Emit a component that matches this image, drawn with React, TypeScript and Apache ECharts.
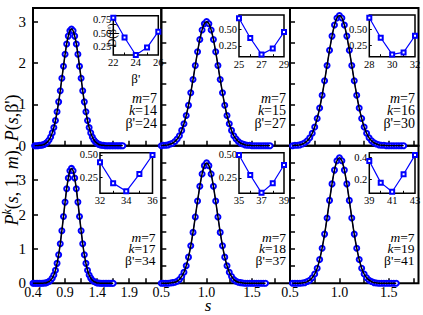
import React, { useEffect, useRef } from 'react';
import * as echarts from 'echarts';

// ---- data ----
const sGrid = [0.4, 0.425, 0.45, 0.475, 0.5, 0.525, 0.55, 0.575, 0.6, 0.625, 0.65, 0.675, 0.7, 0.725, 0.75, 0.775, 0.8, 0.825, 0.85, 0.875, 0.9, 0.925, 0.95, 0.975, 1.0, 1.025, 1.05, 1.075, 1.1, 1.125, 1.15, 1.175, 1.2, 1.225, 1.25, 1.275, 1.3, 1.325, 1.35, 1.375, 1.4, 1.425, 1.45, 1.475, 1.5, 1.525, 1.55, 1.575, 1.6, 1.625, 1.65, 1.675, 1.7, 1.725, 1.75, 1.775, 1.8];

const pK14 = [0, 0, 0, 0, 0.01, 0.01, 0.02, 0.03, 0.06, 0.09, 0.14, 0.21, 0.31, 0.44, 0.61, 0.82, 1.06, 1.33, 1.63, 1.92, 2.21, 2.46, 2.65, 2.78, 2.82, 2.78, 2.65, 2.46, 2.21, 1.92, 1.63, 1.33, 1.06, 0.82, 0.61, 0.44, 0.31, 0.21, 0.14, 0.09, 0.06, 0.03, 0.02, 0.01, 0.01, 0, 0, 0, 0, 0, 0, 0, 0, 0, 0, 0, 0];
const pK15 = [0, 0, 0, 0, 0, 0.01, 0.01, 0.02, 0.04, 0.06, 0.10, 0.16, 0.24, 0.37, 0.53, 0.73, 0.98, 1.28, 1.60, 1.94, 2.27, 2.57, 2.80, 2.95, 3.0, 2.95, 2.80, 2.57, 2.27, 1.94, 1.60, 1.28, 0.98, 0.73, 0.53, 0.37, 0.24, 0.16, 0.10, 0.06, 0.04, 0.02, 0.01, 0.01, 0, 0, 0, 0, 0, 0, 0, 0, 0, 0, 0, 0, 0];
const pK16 = [0, 0, 0, 0, 0, 0, 0.01, 0.01, 0.02, 0.04, 0.07, 0.12, 0.19, 0.30, 0.45, 0.66, 0.91, 1.22, 1.57, 1.94, 2.31, 2.65, 2.92, 3.09, 3.15, 3.09, 2.92, 2.65, 2.31, 1.94, 1.57, 1.22, 0.91, 0.66, 0.45, 0.30, 0.19, 0.12, 0.07, 0.04, 0.02, 0.01, 0.01, 0, 0, 0, 0, 0, 0, 0, 0, 0, 0, 0, 0, 0, 0];
const pK17 = [0, 0, 0, 0, 0, 0, 0, 0.01, 0.01, 0.03, 0.05, 0.09, 0.15, 0.24, 0.38, 0.58, 0.83, 1.15, 1.53, 1.94, 2.36, 2.75, 3.06, 3.27, 3.34, 3.27, 3.06, 2.75, 2.36, 1.94, 1.53, 1.15, 0.83, 0.58, 0.38, 0.24, 0.15, 0.09, 0.05, 0.03, 0.01, 0.01, 0, 0, 0, 0, 0, 0, 0, 0, 0, 0, 0, 0, 0, 0, 0];
const pK18 = [0, 0, 0, 0, 0, 0, 0, 0, 0.01, 0.02, 0.03, 0.06, 0.11, 0.20, 0.32, 0.51, 0.76, 1.09, 1.48, 1.93, 2.39, 2.82, 3.18, 3.42, 3.5, 3.42, 3.18, 2.82, 2.39, 1.93, 1.48, 1.09, 0.76, 0.51, 0.32, 0.20, 0.11, 0.06, 0.03, 0.02, 0.01, 0, 0, 0, 0, 0, 0, 0, 0, 0, 0, 0, 0, 0, 0, 0, 0];
const pK19 = [0, 0, 0, 0, 0, 0, 0, 0, 0, 0.01, 0.02, 0.05, 0.09, 0.16, 0.27, 0.44, 0.69, 1.02, 1.43, 1.90, 2.41, 2.89, 3.29, 3.56, 3.65, 3.56, 3.29, 2.89, 2.41, 1.90, 1.43, 1.02, 0.69, 0.44, 0.27, 0.16, 0.09, 0.05, 0.02, 0.01, 0, 0, 0, 0, 0, 0, 0, 0, 0, 0, 0, 0, 0, 0, 0, 0, 0];

// extent of the sampled data in s for each panel
const spanK14 = [0.425, 1.8];
const spanK15 = [0.5, 1.7];
const spanK16 = [0.525, 1.65];
const spanK17 = [0.4, 1.65];
const spanK18 = [0.5, 1.65];
const spanK19 = [0.525, 1.575];

// inset data: D(beta')
const betaK14 = [22, 23, 24, 25, 26];
const dK14 = [0.79, 0.42, 0.09, 0.23, 0.53];
const betaK15 = [25, 26, 27, 28, 29];
const dK15 = [0.67, 0.37, 0.12, 0.21, 0.46];
const betaK16 = [28, 29, 30, 31, 32];
const dK16 = [0.67, 0.37, 0.12, 0.15, 0.40];
const betaK17 = [32, 33, 34, 35, 36];
const dK17 = [0.42, 0.19, 0.10, 0.29, 0.50];
const betaK18 = [35, 36, 37, 38, 39];
const dK18 = [0.50, 0.28, 0.085, 0.19, 0.39];
const betaK19 = [39, 40, 41, 42, 43];
const dK19 = [0.366, 0.17, 0.087, 0.246, 0.42];

// tick labels
const sTicksLeft = [0.65, 0.9, 1.15, 1.4, 1.65, 1.9, 2.15];
const sLabelsLeft = [0.4, 0.9, 1.4, 1.9];
const sTicksMid = [0.75, 1.0, 1.25, 1.5, 1.75];
const sLabelsMid = [0.5, 1.0, 1.5];
const sTicksRight = [0.75, 1.0, 1.25, 1.5, 1.75];
const sLabelsRight = [0.5, 1.0, 1.5];
const pTicksLeft = [1, 2, 3];
const pLabelsLeft = [0, 1, 2, 3];
const pTicksInnerTop = [0.5, 1, 1.5, 2, 2.5, 3];
const pTicksInnerBottom = [0.5, 1, 1.5, 2, 2.5, 3, 3.5];

const dLabelsK14 = [0.25, 0.5, 0.75];
const dLabelsK15 = [0.25, 0.5];
const dLabelsK16 = [0.25, 0.5];
const dLabelsK17 = [0.25, 0.5];
const dLabelsK18 = [0.25, 0.5];
const dLabelsK19 = [0.2, 0.4];

const mValue = 7;

// ---- styling / layout ----
const FONT = 'Liberation Serif';
const BLUE = '#0000ff';

const panels = [
  { k: 14, beta: 24, p: pK14, span: spanK14, betas: betaK14, d: dK14, dRange: [0.09, 0.83], dLabels: dLabelsK14, dDigits: 2 },
  { k: 15, beta: 27, p: pK15, span: spanK15, betas: betaK15, d: dK15, dRange: [0.085, 0.72], dLabels: dLabelsK15, dDigits: 2 },
  { k: 16, beta: 30, p: pK16, span: spanK16, betas: betaK16, d: dK16, dRange: [0.086, 0.71], dLabels: dLabelsK16, dDigits: 2 },
  { k: 17, beta: 34, p: pK17, span: spanK17, betas: betaK17, d: dK17, dRange: [0.078, 0.525], dLabels: dLabelsK17, dDigits: 2 },
  { k: 18, beta: 37, p: pK18, span: spanK18, betas: betaK18, d: dK18, dRange: [0.08, 0.525], dLabels: dLabelsK18, dDigits: 2 },
  { k: 19, beta: 41, p: pK19, span: spanK19, betas: betaK19, d: dK19, dRange: [0.073, 0.442], dLabels: dLabelsK19, dDigits: 1 },
];

const mainRects = [
  { left: 33, top: 8, width: 128.3, height: 137.7 },
  { left: 161.3, top: 8, width: 128.7, height: 137.7 },
  { left: 290, top: 8, width: 128.5, height: 137.7 },
  { left: 33, top: 145.7, width: 128.3, height: 137.6 },
  { left: 161.3, top: 145.7, width: 128.7, height: 137.6 },
  { left: 290, top: 145.7, width: 128.5, height: 137.6 },
];
const insetRects = [
  { left: 113.3, top: 15.7, width: 45, height: 39.3 },
  { left: 239, top: 15, width: 45, height: 41.7 },
  { left: 369.3, top: 15, width: 45.7, height: 41.7 },
  { left: 100, top: 152.7, width: 52.5, height: 40.6 },
  { left: 239, top: 152.7, width: 45, height: 40.6 },
  { left: 369.3, top: 152.7, width: 45.7, height: 40.6 },
];
const colX = [
  { min: 0.4, max: 2.4, ticks: sTicksLeft, labels: sLabelsLeft },
  { min: 0.5, max: 1.92, ticks: sTicksMid, labels: sLabelsMid },
  { min: 0.5, max: 1.8, ticks: sTicksRight, labels: sLabelsRight },
];
const rowYMax = [3.33, 4];
// annotation block: right edge x, centre y, line height, font size
const annot = [
  { x: 157, y: 110.8, lh: 12.5, fs: 14 },
  { x: 286, y: 110.8, lh: 12.5, fs: 14 },
  { x: 415, y: 110.8, lh: 12.5, fs: 14 },
  { x: 155.5, y: 248.5, lh: 11.5, fs: 13.5 },
  { x: 286, y: 248.5, lh: 11.5, fs: 13.5 },
  { x: 414.5, y: 248.5, lh: 11.5, fs: 13.5 },
];

function buildOption() {
  const grid: any[] = [];
  const xAxis: any[] = [];
  const yAxis: any[] = [];
  const series: any[] = [];
  const graphic: any[] = [];

  panels.forEach((pn, i) => {
    const col = i % 3;
    const row = Math.floor(i / 3);
    const cx = colX[col];
    const mi = grid.length; // main grid index
    grid.push({
      ...mainRects[i], show: true, borderColor: '#000', borderWidth: 2,
      backgroundColor: 'transparent', containLabel: false, outerBoundsMode: 'none',
    });
    xAxis.push({
      type: 'value', gridIndex: mi, min: cx.min, max: cx.max,
      axisLine: { show: false },
      axisTick: { show: true, inside: true, length: 5, customValues: cx.ticks, lineStyle: { color: '#000', width: 1.5 } },
      axisLabel: {
        show: row === 1, customValues: cx.labels, formatter: (v: number) => v.toFixed(1),
        fontFamily: FONT, fontSize: 14, color: '#000', margin: 2, showMinLabel: true, showMaxLabel: true,
      },
      splitLine: { show: false },
    });
    yAxis.push({
      type: 'value', gridIndex: mi, min: 0, max: rowYMax[row],
      axisLine: { show: false },
      axisTick: {
        show: true, inside: true, length: 5,
        customValues: col === 0 ? pTicksLeft : row === 0 ? pTicksInnerTop : pTicksInnerBottom,
        lineStyle: { color: '#000', width: 1.5 },
      },
      axisLabel: {
        show: col === 0, customValues: pLabelsLeft, formatter: (v: number) => String(v),
        fontFamily: FONT, fontSize: 15, color: '#000', margin: 7, showMinLabel: true,
      },
      splitLine: { show: false },
    });
    const pts: number[][] = [];
    sGrid.forEach((s, j) => {
      if (s >= pn.span[0] - 1e-9 && s <= pn.span[1] + 1e-9) pts.push([s, pn.p[j]]);
    });
    series.push({
      type: 'line', xAxisIndex: mi, yAxisIndex: mi, data: pts, silent: true,
      symbol: 'emptyCircle', symbolSize: 5, showSymbol: true,
      itemStyle: { color: BLUE, borderColor: BLUE, borderWidth: 1.5 },
      lineStyle: { color: BLUE, width: 1 }, z: 2,
    });
    series.push({
      type: 'line', xAxisIndex: mi, yAxisIndex: mi, data: pts, silent: true,
      symbol: 'none', showSymbol: false, smooth: 0.3,
      lineStyle: { color: '#000', width: 1.5 }, z: 3,
    });

    // inset
    const gi = grid.length;
    grid.push({
      ...insetRects[i], show: true, borderColor: '#000', borderWidth: 1.5,
      backgroundColor: '#fff', containLabel: false, outerBoundsMode: 'none', z: 5,
    });
    xAxis.push({
      type: 'value', gridIndex: gi, min: pn.betas[0], max: pn.betas[pn.betas.length - 1],
      axisLine: { show: false },
      axisTick: { show: true, inside: true, length: 2.5, customValues: pn.betas.slice(1, -1), lineStyle: { color: '#000', width: 1 } },
      axisLabel: {
        show: true, customValues: pn.betas.filter((_, j) => j % 2 === 0), formatter: (v: number) => String(v),
        fontFamily: FONT, fontSize: 10.5, color: '#000', margin: 2, showMinLabel: true, showMaxLabel: true,
      },
      splitLine: { show: false }, z: 6,
    });
    yAxis.push({
      type: 'value', gridIndex: gi, min: pn.dRange[0], max: pn.dRange[1],
      axisLine: { show: false },
      axisTick: { show: true, inside: true, length: 2.5, customValues: pn.dLabels, lineStyle: { color: '#000', width: 1 } },
      axisLabel: {
        show: true, customValues: pn.dLabels, formatter: (v: number) => v.toFixed(pn.dDigits),
        fontFamily: FONT, fontSize: 10.5, color: '#000', margin: 2,
      },
      splitLine: { show: false }, z: 6,
    });
    series.push({
      type: 'line', xAxisIndex: gi, yAxisIndex: gi, silent: true, z: 7,
      data: pn.betas.map((b, j) => [b, pn.d[j]]),
      symbol: 'emptyRect', symbolSize: 4, showSymbol: true,
      itemStyle: { color: BLUE, borderColor: BLUE, borderWidth: 1 },
      lineStyle: { color: BLUE, width: 1.2 },
    });

    // annotation (one multi-line text block)
    const a = annot[i];
    const rich = {
      i: { fontStyle: 'italic', fontFamily: FONT, fontSize: a.fs, fill: '#000', lineHeight: a.lh },
      n: { fontFamily: FONT, fontSize: a.fs, fill: '#000', lineHeight: a.lh },
    };
    const text = `{i|m}{n|=${mValue}}\n{i|k}{n|=${pn.k}}\n{n|β'=${pn.beta}}`;
    graphic.push({
      type: 'text', x: a.x, y: a.y, silent: true, z: 10,
      style: { text, rich, align: 'right', verticalAlign: 'middle', fontFamily: FONT, fontSize: a.fs, lineHeight: a.lh, fill: '#000' },
    });
  });

  // axis titles
  graphic.push({
    type: 'text', x: 11.5, y: 160, rotation: Math.PI / 2, silent: true, z: 10,
    style: {
      text: "{i|P}{sup|k}{n|(}{i|s}{n|, 1, }{i|m}{n|), }{i|P}{n|(}{i|s}{n|,β')}",
      rich: {
        i: { fontStyle: 'italic', fontFamily: FONT, fontSize: 18, fill: '#000', lineHeight: 22 },
        n: { fontFamily: FONT, fontSize: 18, fill: '#000', lineHeight: 22 },
        sup: { fontStyle: 'italic', fontFamily: FONT, fontSize: 12, fill: '#000', verticalAlign: 'top', lineHeight: 22 },
      },
      align: 'center', verticalAlign: 'middle',
    },
  });
  graphic.push({
    type: 'text', x: 208, y: 314, silent: true, z: 10,
    style: { text: 's', fontFamily: FONT, fontStyle: 'italic', fontSize: 17, fill: '#000', align: 'center', verticalAlign: 'bottom' },
  });
  graphic.push({
    type: 'text', x: 135.8, y: 78.5, silent: true, z: 10,
    style: { text: "β'", fontFamily: FONT, fontSize: 13, fill: '#000', align: 'center', verticalAlign: 'middle' },
  });
  graphic.push({
    type: 'text', x: 111.5, y: 35, rotation: Math.PI / 2, silent: true, z: 10,
    style: { text: "D(β')", fontFamily: FONT, fontSize: 11.5, fill: '#000', align: 'center', verticalAlign: 'middle' },
  });

  return { animation: false, backgroundColor: '#fff', grid, xAxis, yAxis, series, graphic };
}

export default function App() {
  const ref = useRef<HTMLDivElement>(null);
  useEffect(() => {
    const chart = echarts.init(ref.current!, null, { renderer: 'svg' });
    chart.setOption(buildOption() as any);
    return () => chart.dispose();
  }, []);
  return <div ref={ref} style={{ position: 'absolute', left: 0, top: 0, width: 423, height: 315, background: '#fff' }} />;
}
